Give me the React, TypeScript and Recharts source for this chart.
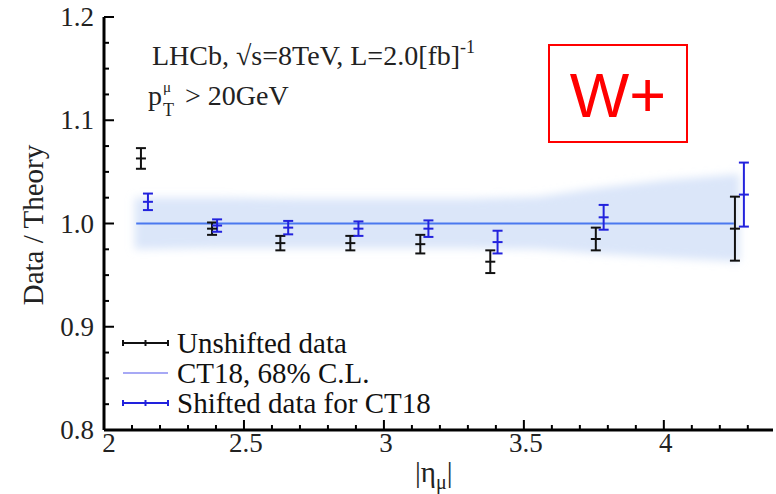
import { ComposedChart, Scatter, ErrorBar, Area, Line, XAxis, YAxis, Legend } from 'recharts';

// |eta_mu| bins, Data/Theory ratio and its uncertainty
const unshiftedEta = [2.132, 2.386, 2.63, 2.88, 3.13, 3.38, 3.757, 4.254];
const unshiftedRatio = [1.063, 0.995, 0.981, 0.981, 0.98, 0.963, 0.985, 0.995];
const unshiftedErr = [0.01, 0.006, 0.007, 0.007, 0.009, 0.011, 0.011, 0.031];

const shiftedEta = [2.157, 2.404, 2.658, 2.909, 3.159, 3.406, 3.785, 4.286];
const shiftedRatio = [1.021, 0.998, 0.996, 0.995, 0.995, 0.982, 1.006, 1.028];
const shiftedErr = [0.008, 0.006, 0.0065, 0.007, 0.008, 0.011, 0.012, 0.031];

// CT18 68% C.L. band
const bandEta = [2.11, 2.4, 2.7, 3.0, 3.3, 3.55, 3.75, 4.0, 4.27];
const bandLow = [0.975, 0.976, 0.976, 0.976, 0.976, 0.975, 0.971, 0.967, 0.963];
const bandHigh = [1.025, 1.025, 1.024, 1.024, 1.024, 1.026, 1.034, 1.042, 1.048];

const ct18Eta = [2.115, 4.25];
const ct18Ratio = [1, 1];

const xMajor = [2, 2.5, 3, 3.5, 4];
const xMinor = [2.1, 2.2, 2.3, 2.4, 2.6, 2.7, 2.8, 2.9, 3.1, 3.2, 3.3, 3.4, 3.6, 3.7, 3.8, 3.9, 4.1, 4.2, 4.3];
const yMajor = [0.8, 0.9, 1.0, 1.1, 1.2];
const yMinor = [0.825, 0.85, 0.875, 0.925, 0.95, 0.975, 1.025, 1.05, 1.075, 1.125, 1.15, 1.175];

const legendItems = [
  { name: 'Unshifted data', color: '#111111', kind: 'bar' },
  { name: 'CT18, 68% C.L.', color: '#8a8cf2', kind: 'line' },
  { name: 'Shifted data for CT18', color: '#2222dd', kind: 'bar' },
];

const unshiftedData = unshiftedEta.map((x, i) => ({ x, y: unshiftedRatio[i], err: unshiftedErr[i] }));
const shiftedData = shiftedEta.map((x, i) => ({ x, y: shiftedRatio[i], err: shiftedErr[i] }));
const bandData = bandEta.map((x, i) => ({ x, band: [bandLow[i], bandHigh[i]] }));
const ct18Data = ct18Eta.map((x, i) => ({ x, y: ct18Ratio[i] }));

const xTicks = [...xMajor, ...xMinor].sort((a, b) => a - b);
const yTicks = [...yMajor, ...yMinor].sort((a, b) => a - b);

const SERIF = '"Liberation Serif", "Times New Roman", serif';
const TICK_COLOR = '#222';

function BottomTick(props: any) {
  const { x, y, payload } = props;
  const major = xMajor.includes(payload.value);
  return (
    <g>
      <line x1={x} y1={y} x2={x} y2={y - (major ? 10 : 5)} stroke="#000" strokeWidth={2} />
      {major && (
        <text
          x={x + (payload.value === 2 ? 5 : 2)}
          y={y + 22}
          textAnchor="middle"
          fontSize={27}
          fontFamily={SERIF}
          fill={TICK_COLOR}
        >
          {payload.value}
        </text>
      )}
    </g>
  );
}

function TopTick(props: any) {
  const { x, y, payload } = props;
  const major = xMajor.includes(payload.value);
  return <line x1={x} y1={y} x2={x} y2={y + (major ? 10 : 5)} stroke="#000" strokeWidth={2} />;
}

function LeftTick(props: any) {
  const { x, y, payload } = props;
  const major = yMajor.includes(payload.value);
  return (
    <g>
      <line x1={x} y1={y} x2={x + (major ? 10 : 5)} y2={y} stroke="#000" strokeWidth={2} />
      {major && (
        <text x={x - 10} y={y + 9} textAnchor="end" fontSize={27} fontFamily={SERIF} fill={TICK_COLOR}>
          {payload.value.toFixed(1)}
        </text>
      )}
    </g>
  );
}

function RightTick(props: any) {
  const { x, y, payload } = props;
  const major = yMajor.includes(payload.value);
  return <line x1={x} y1={y} x2={x - (major ? 10 : 5)} y2={y} stroke="#000" strokeWidth={2} />;
}

const centerMark = (color: string) => (p: any) => (
  <line x1={p.cx - 5} x2={p.cx + 5} y1={p.cy} y2={p.cy} stroke={color} strokeWidth={2} />
);

function renderLegend() {
  return (
    <svg width={380} height={96} style={{ display: 'block' }}>
      {legendItems.map((item, i) => {
        const cy = 18 + i * 30;
        return (
          <g key={item.name}>
            <line x1={5} x2={50} y1={cy} y2={cy} stroke={item.color} strokeWidth={item.kind === 'bar' ? 2 : 1.5} />
            {item.kind === 'bar' &&
              [5, 27.5, 50].map((tx) => (
                <line key={tx} x1={tx} x2={tx} y1={cy - 3} y2={cy + 3} stroke={item.color} strokeWidth={2} />
              ))}
            <text x={59} y={cy + 10} fontSize={29} fontFamily={SERIF} fill="#111">
              {item.name}
            </text>
          </g>
        );
      })}
    </svg>
  );
}

export default function App() {
  return (
    <div style={{ position: 'absolute', left: 0, top: 0, width: 776, height: 494, background: '#fff' }}>
      <ComposedChart width={776} height={494} margin={{ top: 17, right: 3, bottom: 0, left: 0 }}>
        <defs>
          <filter id="bandBlur" x="-10%" y="-50%" width="120%" height="200%">
            <feGaussianBlur stdDeviation="4" />
          </filter>
        </defs>
        <XAxis
          xAxisId="b"
          dataKey="x"
          type="number"
          domain={[2, 4.39]}
          allowDataOverflow
          ticks={xTicks}
          interval={0}
          tickSize={0}
          tickMargin={0}
          tickLine={false}
          tick={<BottomTick />}
          height={64}
          axisLine={{ stroke: '#000', strokeWidth: 3 }}
        />
        <XAxis
          xAxisId="t"
          orientation="top"
          type="number"
          domain={[2, 4.39]}
          allowDataOverflow
          ticks={xTicks}
          interval={0}
          tickSize={0}
          tickMargin={0}
          tickLine={false}
          tick={<TopTick />}
          height={0}
          axisLine={{ stroke: '#000', strokeWidth: 2 }}
        />
        <YAxis
          yAxisId="l"
          dataKey="y"
          type="number"
          domain={[0.8, 1.2]}
          allowDataOverflow
          ticks={yTicks}
          interval={0}
          tickSize={0}
          tickMargin={0}
          tickLine={false}
          tick={<LeftTick />}
          width={104}
          axisLine={{ stroke: '#000', strokeWidth: 3 }}
        />
        <YAxis
          yAxisId="r"
          orientation="right"
          type="number"
          domain={[0.8, 1.2]}
          allowDataOverflow
          ticks={yTicks}
          interval={0}
          tickSize={0}
          tickMargin={0}
          tickLine={false}
          tick={<RightTick />}
          width={0}
          axisLine={{ stroke: '#000', strokeWidth: 2 }}
        />
        <Area
          xAxisId="b"
          yAxisId="l"
          data={bandData}
          dataKey="band"
          type="linear"
          stroke="none"
          fill="#cfdef7"
          fillOpacity={0.75}
          style={{ filter: 'url(#bandBlur)' }}
          isAnimationActive={false}
        />
        <Line
          xAxisId="b"
          yAxisId="l"
          data={ct18Data}
          dataKey="y"
          stroke="#4a78ef"
          strokeWidth={2}
          dot={false}
          isAnimationActive={false}
        />
        <Scatter
          xAxisId="b"
          yAxisId="l"
          data={unshiftedData}
          dataKey="y"
          shape={centerMark('#111')}
          isAnimationActive={false}
        >
          <ErrorBar dataKey="err" direction="y" width={5} stroke="#111" strokeWidth={2} isAnimationActive={false} />
        </Scatter>
        <Scatter
          xAxisId="b"
          yAxisId="l"
          data={shiftedData}
          dataKey="y"
          shape={centerMark('#2222dd')}
          isAnimationActive={false}
        >
          <ErrorBar dataKey="err" direction="y" width={5} stroke="#2222dd" strokeWidth={2} isAnimationActive={false} />
        </Scatter>
        <Legend
          layout="vertical"
          align="center"
          verticalAlign="middle"
          content={renderLegend}
          wrapperStyle={{ left: 118, top: 325, width: 380 }}
        />
      </ComposedChart>

      {/* annotations */}
      <svg width={776} height={494} style={{ position: 'absolute', left: 0, top: 0, pointerEvents: 'none' }}>
        <text x={152} y={65} fontSize={28} fontFamily={SERIF} fill="#222">
          LHCb, √s=8TeV, L=2.0[fb]
          <tspan dy={-12} fontSize={18}>-1</tspan>
        </text>
        <text x={148} y={105} fontSize={28} fontFamily={SERIF} fill="#222">p</text>
        <text x={163} y={92} fontSize={15} fontFamily={SERIF} fill="#222">μ</text>
        <text x={163} y={116} fontSize={18} fontFamily={SERIF} fill="#222">T</text>
        <text x={185} y={105} fontSize={28} fontFamily={SERIF} fill="#222">&gt; 20GeV</text>

        <rect x={549} y={45} width={138} height={97} fill="#fff" stroke="#ff0000" strokeWidth={2} />
        <text x={618} y={117} textAnchor="middle" fontSize={63} fontFamily='"Liberation Sans", Arial, sans-serif' fill="#ff0000">
          W+
        </text>

        <text
          x={0}
          y={0}
          transform="translate(43 225) rotate(-90)"
          textAnchor="middle"
          fontSize={29}
          fontFamily={SERIF}
          fill="#222"
        >
          Data / Theory
        </text>

        <text x={415} y={482} fontSize={29} fontFamily={SERIF} fill="#222">
          |η<tspan dy={7} fontSize={20}>μ</tspan>
          <tspan dy={-7}>|</tspan>
        </text>
      </svg>
    </div>
  );
}
